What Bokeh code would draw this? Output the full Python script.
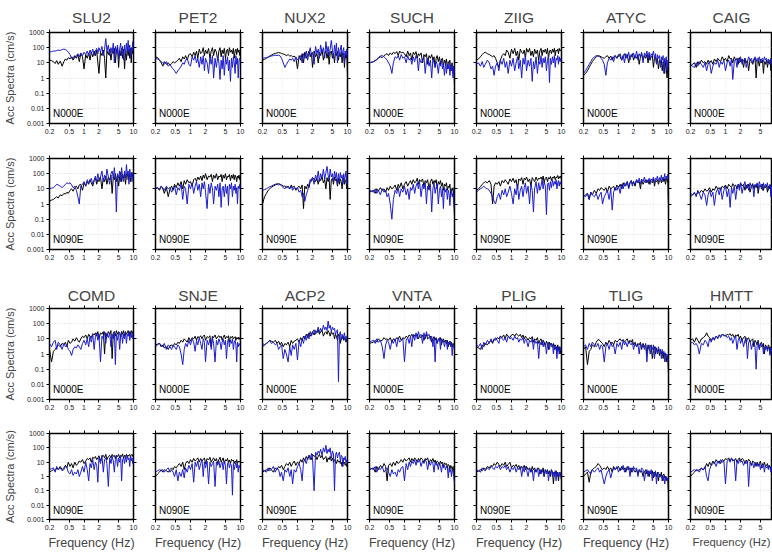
from bokeh.plotting import figure
from bokeh.layouts import gridplot
from bokeh.models import LogAxis, FixedTicker, Label, Range1d
from bokeh.embed import file_html
from bokeh.resources import INLINE

# ---------------- data ----------------
FREQ = [0.2, 0.22, 0.24, 0.26, 0.28, 0.3, 0.33, 0.36, 0.39, 0.42, 0.45,
        0.48, 0.52, 0.56, 0.6, 0.65, 0.7, 0.75, 0.8, 0.86, 0.93, 1.0,
        1.08, 1.16, 1.24, 1.32, 1.4, 1.5, 1.6, 1.7, 1.8, 1.9, 2.0,
        2.15, 2.3, 2.45, 2.6, 2.75, 2.9, 3.1, 3.3, 3.5, 3.7, 3.9,
        4.1, 4.3, 4.5, 4.75, 5.0, 5.25, 5.5, 5.75, 6.0, 6.3, 6.6,
        6.9, 7.2, 7.5, 7.8, 8.1, 8.4, 8.7, 9.0, 9.35, 9.7, 10.0]

STATIONS_TOP = ["SLU2", "PET2", "NUX2", "SUCH", "ZIIG", "ATYC", "CAIG"]
STATIONS_BOTTOM = ["COMD", "SNJE", "ACP2", "VNTA", "PLIG", "TLIG", "HMTT"]

X_TICKS = [0.2, 0.5, 1, 2, 5, 10]
X_TICK_LABELS = ["0.2", "0.5", "1", "2", "5", "10"]
Y_TICKS = [0.001, 0.01, 0.1, 1, 10, 100, 1000]
Y_TICK_LABELS = ["0.001", "0.01", "0.1", "1", "10", "100", "1000"]

# _K = black record, _B = blue record (cm/s), one value per FREQ entry
SLU2_N000E_K = [15, 14, 12, 9, 14, 8, 13, 6, 12, 18, 15,
                22, 18, 25, 15, 30, 20, 35, 12, 40, 25, 4,
                35, 20, 45, 15, 50, 25, 60, 30, 70, 10, 2,
                50, 30, 70, 20, 1, 60, 35, 80, 15, 60, 40,
                90, 10, 60, 100, 5, 70, 30, 90, 20, 80, 4,
                60, 15, 100, 30, 80, 20, 90, 10, 100, 40, 80]
SLU2_N000E_B = [50, 55, 60, 60, 65, 70, 65, 75, 80, 75, 65,
                50, 35, 20, 25, 20, 30, 40, 25, 45, 30, 50,
                35, 60, 30, 70, 40, 80, 30, 60, 90, 40, 100,
                50, 120, 30, 80, 400, 60, 150, 30, 100, 50, 200,
                10, 120, 40, 150, 20, 80, 200, 30, 120, 15, 150,
                40, 200, 60, 300, 50, 150, 20, 100, 60, 250, 60]
PET2_N000E_K = [25, 22, 15, 10, 6, 12, 8, 10, 7, 9, 12,
                10, 12, 15, 20, 12, 25, 18, 30, 15, 35, 40,
                25, 50, 30, 60, 20, 80, 40, 50, 100, 30, 70,
                40, 90, 20, 60, 100, 30, 80, 50, 15, 60, 100,
                25, 70, 40, 90, 20, 60, 80, 30, 100, 50, 70,
                40, 90, 20, 60, 80, 35, 90, 50, 70, 30, 50]
PET2_N000E_B = [20, 18, 15, 12, 10, 8, 12, 6, 8, 5, 4,
                3, 2, 3, 4, 6, 10, 8, 15, 20, 8, 6,
                25, 15, 30, 10, 20, 5, 25, 8, 30, 3, 20,
                10, 2, 25, 8, 30, 1, 20, 5, 25, 10, 0.8,
                15, 4, 30, 1.5, 20, 8, 25, 3, 15, 0.6, 20,
                5, 25, 10, 2, 30, 8, 20, 1, 15, 20, 10]
NUX2_N000E_K = [15, 17, 20, 24, 28, 32, 38, 42, 45, 48, 45,
                42, 38, 35, 30, 35, 28, 30, 25, 28, 20, 4,
                30, 15, 40, 10, 50, 20, 35, 60, 25, 45, 5,
                60, 25, 40, 10, 50, 30, 70, 15, 40, 60, 20,
                50, 8, 40, 60, 20, 45, 10, 50, 30, 60, 15,
                40, 25, 50, 10, 45, 30, 5, 40, 20, 35, 1.5]
NUX2_N000E_B = [20, 21, 22, 24, 26, 28, 30, 32, 30, 33, 28,
                20, 10, 5, 8, 12, 18, 15, 20, 12, 25, 15,
                20, 30, 10, 40, 20, 60, 15, 50, 100, 30, 50,
                8, 120, 40, 80, 20, 150, 50, 100, 20, 250, 50,
                120, 30, 80, 300, 60, 20, 150, 40, 200, 10, 100,
                30, 80, 150, 20, 60, 100, 10, 60, 30, 80, 20]
SUCH_N000E_K = [10, 11, 12, 14, 16, 20, 25, 22, 30, 35, 40,
                30, 45, 35, 50, 40, 55, 30, 60, 45, 50, 40,
                25, 60, 30, 45, 15, 50, 35, 55, 20, 40, 30,
                45, 10, 35, 25, 40, 8, 30, 20, 35, 15, 25,
                5, 20, 30, 12, 25, 8, 18, 20, 6, 15, 10,
                18, 4, 12, 10, 15, 3, 8, 10, 2, 6, 0.3]
SUCH_N000E_B = [10, 11, 12, 14, 18, 22, 28, 30, 25, 20, 15,
                10, 6, 2, 10, 25, 20, 30, 15, 35, 20, 25,
                10, 30, 15, 20, 8, 25, 12, 30, 18, 3, 20,
                10, 15, 25, 2, 12, 20, 6, 15, 1, 18, 10,
                5, 12, 8, 2, 10, 6, 15, 4, 8, 1.5, 10,
                2, 8, 4, 10, 1.5, 6, 3, 8, 1, 5, 2]
ZIIG_N000E_K = [15, 18, 25, 35, 45, 50, 40, 35, 30, 25, 30,
                20, 10, 5, 15, 30, 40, 30, 70, 50, 20, 80,
                40, 90, 30, 60, 15, 80, 50, 40, 70, 20, 90,
                50, 90, 30, 60, 25, 80, 40, 70, 15, 60, 90,
                30, 70, 50, 80, 40, 90, 20, 60, 70, 40, 80,
                50, 90, 30, 70, 60, 80, 40, 90, 60, 70, 80]
ZIIG_N000E_B = [8, 10, 6, 12, 5, 8, 15, 10, 4, 6, 1.5,
                6, 10, 3, 15, 8, 20, 5, 12, 2, 15, 6,
                20, 3, 10, 25, 4, 15, 1, 20, 8, 30, 3,
                15, 6, 20, 0.6, 12, 4, 25, 2, 15, 8, 30,
                5, 20, 10, 25, 3, 15, 30, 0.5, 20, 8, 25,
                10, 30, 5, 20, 15, 30, 8, 25, 12, 20, 15]
ATYC_N000E_K = [1.5, 2, 3, 5, 8, 12, 18, 25, 30, 28, 25,
                22, 20, 25, 30, 20, 28, 15, 25, 30, 20, 35,
                25, 15, 30, 40, 20, 35, 10, 30, 25, 40, 15,
                30, 20, 35, 8, 25, 40, 15, 30, 20, 35, 10,
                30, 15, 25, 30, 5, 20, 25, 10, 20, 4, 15,
                10, 15, 3, 12, 8, 2, 10, 5, 1, 6, 2]
ATYC_N000E_B = [2, 3, 5, 8, 12, 18, 25, 30, 28, 25, 20,
                15, 8, 1.5, 10, 20, 15, 25, 12, 30, 20, 25,
                40, 15, 30, 10, 40, 20, 50, 15, 35, 25, 45,
                20, 60, 15, 40, 25, 50, 10, 45, 30, 60, 20,
                50, 15, 40, 30, 60, 20, 40, 8, 35, 20, 30,
                5, 25, 15, 30, 2, 20, 10, 25, 3, 15, 5]
CAIG_N000E_K = [6, 8, 10, 5, 12, 8, 15, 10, 12, 8, 15,
                10, 14, 8, 18, 12, 20, 15, 12, 25, 15, 20,
                12, 30, 18, 20, 10, 25, 15, 20, 8, 22, 12,
                18, 5, 20, 10, 15, 3, 18, 12, 8, 15, 20,
                1, 12, 15, 6, 18, 10, 15, 2, 12, 8, 15,
                5, 12, 10, 15, 3, 12, 8, 15, 6, 10, 12]
CAIG_N000E_B = [8, 6, 5, 10, 6, 12, 8, 5, 10, 3, 8,
                12, 2, 6, 10, 8, 15, 5, 12, 8, 15, 3,
                10, 15, 6, 20, 0.8, 12, 18, 5, 20, 10, 25,
                8, 15, 20, 5, 12, 25, 15, 20, 10, 18, 25,
                12, 20, 15, 25, 10, 18, 20, 12, 25, 15, 20,
                10, 18, 8, 15, 20, 12, 5, 15, 12, 8, 10]

SLU2_N090E_K = [1.5, 1.8, 2, 2.5, 3, 2.5, 4, 3.5, 5, 4.5, 6,
                5, 8, 10, 7, 12, 15, 10, 18, 20, 8, 25,
                15, 30, 20, 40, 25, 15, 35, 50, 20, 40, 30,
                60, 10, 50, 30, 70, 20, 60, 40, 80, 5, 60,
                40, 100, 30, 80, 15, 60, 120, 30, 90, 50, 100,
                20, 80, 120, 40, 100, 60, 30, 90, 120, 50, 100]
SLU2_N090E_B = [10, 11, 12, 15, 20, 18, 15, 12, 15, 20, 25,
                22, 25, 18, 12, 15, 8, 3, 1, 15, 20, 30,
                15, 40, 25, 30, 50, 20, 40, 70, 30, 100, 40,
                60, 150, 30, 80, 40, 200, 60, 20, 100, 150, 50,
                250, 40, 0.3, 100, 50, 150, 30, 250, 60, 30, 150,
                50, 400, 80, 150, 20, 200, 60, 120, 30, 100, 60]
PET2_N090E_K = [10, 12, 8, 15, 10, 5, 12, 3, 10, 15, 8,
                20, 12, 25, 15, 30, 10, 35, 20, 40, 25, 30,
                15, 40, 50, 30, 60, 40, 70, 35, 80, 50, 100,
                40, 70, 60, 90, 30, 80, 50, 100, 40, 70, 60,
                90, 30, 80, 50, 100, 40, 70, 60, 90, 35, 80,
                50, 90, 40, 80, 60, 30, 70, 50, 80, 40, 60]
PET2_N090E_B = [12, 11, 10, 15, 12, 8, 15, 10, 12, 6, 10,
                15, 4, 12, 8, 20, 2, 15, 10, 1, 20, 10,
                25, 5, 15, 30, 8, 20, 3, 25, 10, 30, 6,
                0.5, 20, 5, 25, 10, 1, 15, 8, 20, 3, 25,
                0.6, 10, 15, 3, 20, 5, 15, 0.8, 20, 10, 25,
                3, 15, 8, 20, 5, 12, 1, 15, 10, 20, 10]
NUX2_N090E_K = [1, 3, 5, 8, 10, 13, 15, 18, 20, 22, 20,
                18, 15, 15, 12, 15, 10, 18, 12, 15, 8, 12,
                15, 10, 18, 0.5, 15, 10, 20, 12, 30, 45, 40,
                50, 30, 45, 20, 50, 35, 60, 25, 40, 10, 55,
                30, 50, 2, 40, 50, 20, 60, 35, 45, 15, 50,
                20, 45, 30, 10, 40, 50, 20, 40, 30, 10, 20]
NUX2_N090E_B = [8, 9, 10, 12, 14, 15, 18, 20, 22, 18, 20,
                15, 12, 10, 15, 12, 10, 15, 8, 12, 10, 12,
                6, 8, 3, 5, 1.5, 4, 8, 20, 40, 30, 60,
                20, 80, 40, 150, 30, 100, 50, 200, 40, 120, 300,
                80, 40, 200, 60, 100, 30, 150, 50, 120, 20, 100,
                30, 120, 50, 80, 20, 100, 40, 60, 150, 20, 40]
SUCH_N090E_K = [6, 7, 8, 5, 10, 7, 12, 8, 10, 6, 12,
                8, 15, 10, 12, 18, 8, 20, 12, 25, 10, 20,
                30, 15, 25, 35, 20, 40, 25, 30, 50, 20, 40,
                30, 45, 15, 35, 25, 40, 10, 30, 45, 20, 35,
                25, 40, 10, 30, 20, 35, 15, 25, 8, 20, 15,
                25, 8, 15, 12, 20, 4, 10, 8, 12, 2, 0.15]
SUCH_N090E_B = [8, 7, 6, 10, 5, 8, 4, 10, 6, 8, 3,
                5, 1, 0.1, 2, 8, 5, 12, 3, 10, 6, 15,
                4, 10, 2, 12, 8, 20, 5, 15, 25, 10, 30,
                3, 20, 10, 25, 1, 15, 8, 20, 0.3, 10, 25,
                5, 12, 20, 1, 8, 15, 3, 10, 0.5, 12, 6,
                10, 2, 8, 5, 0.8, 6, 10, 3, 5, 1, 0.5]
ZIIG_N090E_K = [8, 10, 14, 20, 25, 30, 25, 35, 20, 1, 15,
                25, 20, 30, 15, 35, 25, 40, 30, 20, 45, 30,
                50, 25, 40, 10, 45, 35, 55, 20, 50, 40, 60,
                30, 45, 15, 55, 40, 30, 60, 35, 50, 45, 60,
                40, 70, 25, 50, 60, 30, 55, 45, 65, 35, 60,
                50, 70, 40, 60, 55, 75, 45, 65, 50, 70, 55]
ZIIG_N090E_B = [6, 8, 10, 12, 15, 12, 10, 8, 5, 3, 1.5,
                1, 3, 5, 2, 8, 4, 10, 3, 6, 15, 5,
                1, 10, 4, 20, 2, 8, 15, 3, 12, 25, 5,
                15, 1, 20, 8, 0.3, 10, 30, 5, 25, 8, 15,
                40, 10, 30, 15, 0.2, 20, 25, 8, 30, 12, 40,
                15, 30, 20, 40, 10, 25, 35, 15, 30, 20, 25]
ATYC_N090E_K = [3, 4, 5, 2, 6, 4, 8, 5, 10, 8, 12,
                10, 8, 12, 6, 15, 10, 12, 15, 8, 18, 12,
                20, 10, 25, 15, 20, 30, 12, 25, 35, 20, 30,
                15, 40, 25, 30, 10, 35, 20, 30, 40, 25, 35,
                20, 40, 30, 25, 45, 15, 35, 30, 40, 20, 35,
                45, 25, 40, 50, 30, 45, 20, 35, 50, 25, 0.5]
ATYC_N090E_B = [4, 3, 5, 2, 6, 4, 3, 5, 2, 4, 6,
                1, 3, 5, 8, 2, 10, 0.4, 6, 12, 8, 15,
                5, 20, 10, 25, 15, 30, 10, 25, 35, 15, 30,
                20, 40, 25, 50, 20, 45, 30, 60, 25, 40, 30,
                50, 20, 45, 35, 60, 25, 50, 40, 70, 30, 55,
                40, 80, 30, 60, 45, 100, 35, 70, 50, 90, 40]
CAIG_N090E_K = [3, 4, 5, 4, 6, 5, 8, 6, 10, 7, 8,
                12, 6, 10, 8, 15, 10, 12, 8, 15, 12, 18,
                10, 20, 15, 12, 22, 15, 18, 10, 20, 12, 25,
                15, 20, 8, 18, 12, 20, 6, 15, 22, 10, 18,
                12, 20, 5, 15, 18, 10, 20, 8, 15, 12, 18,
                6, 15, 10, 18, 5, 12, 15, 8, 12, 10, 10]
CAIG_N090E_B = [5, 4, 6, 3, 8, 5, 2, 6, 4, 0.8, 4,
                8, 3, 6, 0.8, 6, 10, 4, 12, 2, 8, 15,
                3, 10, 0.6, 12, 5, 15, 2, 10, 20, 8, 25,
                5, 15, 30, 10, 20, 8, 25, 12, 18, 3, 20,
                15, 25, 10, 30, 15, 20, 8, 25, 12, 20, 15,
                25, 8, 15, 20, 3, 15, 10, 12, 2, 10, 6]

COMD_N000E_K = [2, 0.3, 1.5, 2, 3, 4, 3, 5, 4, 6, 3,
                8, 5, 6, 10, 7, 12, 8, 6, 10, 15, 12,
                18, 10, 20, 15, 12, 22, 18, 25, 15, 30, 10,
                25, 20, 30, 1, 25, 15, 30, 20, 35, 0.5, 25,
                30, 15, 35, 20, 30, 25, 12, 30, 20, 35, 15,
                30, 20, 25, 35, 15, 30, 20, 35, 25, 30, 12]
COMD_N000E_B = [5, 3, 6, 8, 2, 6, 4, 2, 5, 3, 4,
                2, 1.5, 0.8, 2, 3, 2.5, 4, 3, 2, 5, 8,
                4, 10, 3, 15, 6, 20, 2, 15, 25, 8, 20,
                0.3, 15, 10, 30, 5, 20, 12, 25, 3, 20, 10,
                30, 0.2, 20, 8, 25, 2, 15, 30, 5, 20, 10,
                25, 5, 20, 15, 30, 8, 20, 12, 25, 10, 15]
SNJE_N000E_K = [4, 4.5, 5, 3, 4, 2.5, 3, 2, 3.5, 4, 3,
                5, 4, 6, 5, 8, 6, 10, 8, 6, 12, 7,
                12, 10, 15, 8, 14, 12, 16, 10, 15, 18, 8,
                14, 12, 16, 3, 15, 12, 18, 10, 14, 16, 12,
                15, 8, 12, 18, 10, 14, 12, 16, 6, 14, 12,
                15, 10, 12, 14, 8, 12, 10, 13, 9, 12, 10]
SNJE_N000E_B = [3, 4, 5, 4, 3, 5, 2, 4, 3, 2, 4,
                3, 2, 4, 3, 1, 0.2, 2, 5, 3, 8, 4,
                10, 6, 1.5, 8, 4, 12, 5, 2, 10, 6, 0.3,
                8, 4, 10, 2, 12, 5, 0.3, 8, 4, 10, 6,
                2, 6, 10, 4, 8, 0.5, 6, 10, 3, 8, 5,
                10, 2, 6, 8, 4, 0.3, 6, 3, 5, 4, 3]
ACP2_N000E_K = [3, 4, 5, 6, 8, 7, 6, 8, 5, 7, 4,
                6, 3, 5, 4, 6, 3, 8, 5, 7, 8, 10,
                6, 12, 8, 15, 10, 20, 12, 25, 15, 20, 30,
                18, 35, 25, 40, 20, 30, 35, 15, 25, 30, 20,
                35, 25, 15, 30, 20, 25, 10, 20, 15, 8, 20,
                15, 5, 12, 10, 15, 8, 12, 10, 6, 10, 6]
ACP2_N000E_B = [5, 4, 5, 6, 8, 5, 6, 4, 5, 2, 3,
                4, 0.5, 2, 1, 0.3, 3, 0.8, 4, 2, 5, 0.4,
                8, 3, 10, 5, 15, 8, 20, 10, 30, 15, 25,
                40, 20, 30, 60, 25, 50, 30, 80, 40, 60, 35,
                150, 50, 80, 30, 60, 40, 50, 20, 30, 40, 0.015,
                20, 30, 8, 20, 10, 15, 25, 8, 15, 10, 5]
VNTA_N000E_K = [5, 5.5, 6, 8, 6, 10, 7, 8, 12, 9, 10,
                8, 12, 6, 10, 8, 12, 10, 15, 8, 12, 10,
                15, 12, 18, 14, 20, 12, 18, 15, 20, 10, 15,
                12, 18, 8, 14, 20, 10, 12, 15, 6, 10, 14,
                8, 12, 5, 10, 8, 12, 4, 8, 10, 6, 8,
                5, 8, 3, 6, 7, 4, 6, 3, 5, 4, 2]
VNTA_N000E_B = [6, 7, 8, 5, 10, 6, 8, 3, 0.5, 4, 8,
                6, 2, 8, 5, 10, 3, 12, 6, 8, 10, 0.3,
                8, 12, 5, 15, 3, 20, 8, 25, 10, 30, 15,
                20, 5, 25, 10, 30, 15, 20, 8, 15, 3, 12,
                0.3, 10, 5, 8, 12, 2, 10, 6, 8, 3, 6,
                8, 2, 6, 4, 7, 3, 5, 0.8, 4, 3, 2]
PLIG_N000E_K = [3, 2.5, 2, 4, 3, 5, 4, 6, 8, 5, 10,
                8, 12, 10, 15, 12, 18, 10, 20, 15, 12, 18,
                20, 15, 22, 18, 15, 20, 12, 18, 10, 15, 12,
                8, 12, 10, 14, 6, 10, 8, 12, 5, 8, 10,
                4, 8, 6, 3, 7, 5, 2, 6, 4, 5, 3,
                5, 2, 4, 3, 1.5, 4, 2, 3, 1, 2, 1.5]
PLIG_N000E_B = [4, 3, 5, 2, 6, 4, 8, 5, 10, 6, 8,
                12, 8, 5, 15, 10, 8, 12, 6, 15, 10, 12,
                8, 15, 10, 12, 6, 10, 8, 12, 5, 10, 8,
                3, 8, 6, 10, 2, 8, 5, 7, 0.5, 6, 4,
                8, 3, 6, 5, 1, 4, 6, 2, 5, 3, 4,
                1, 4, 2, 3, 0.5, 3, 2, 1, 3, 2, 1.5]
TLIG_N000E_K = [2, 3, 0.2, 1.5, 2, 4, 3, 6, 9, 8, 6,
                5, 3, 6, 4, 8, 5, 6, 4, 8, 6, 8,
                10, 7, 9, 6, 8, 10, 5, 8, 6, 9, 4,
                6, 3, 5, 4, 6, 2, 5, 3, 4, 1, 4,
                2, 3, 4, 0.5, 2, 3, 1, 2.5, 1.5, 2, 0.8,
                2, 1, 1.5, 0.5, 1.2, 0.8, 1, 0.3, 0.8, 0.5, 0.05]
TLIG_N000E_B = [3, 4, 2, 5, 3, 6, 4, 3, 5, 2, 4,
                3, 0.3, 3, 5, 2, 6, 3, 4, 1, 5, 3,
                6, 2, 8, 4, 6, 3, 7, 5, 4, 6, 2,
                5, 3, 4, 1, 5, 3, 4, 2, 5, 0.3, 3,
                4, 1, 3, 2, 4, 0.5, 3, 2, 1, 3, 1.5,
                2, 0.5, 2, 1, 1.5, 0.3, 1.2, 0.8, 1, 0.3, 0.5]
HMTT_N000E_K = [8, 10, 6, 12, 8, 5, 10, 12, 15, 25, 15,
                12, 8, 12, 10, 15, 12, 18, 15, 20, 18, 15,
                20, 18, 22, 15, 20, 12, 18, 15, 20, 10, 15,
                8, 12, 15, 5, 10, 12, 6, 8, 10, 3, 8,
                6, 4, 8, 2, 5, 6, 3, 5, 1, 4, 3,
                2, 4, 3, 1, 3, 2, 1, 3, 2, 1, 1]
HMTT_N000E_B = [5, 6, 4, 5, 3, 1, 5, 4, 8, 6, 3,
                10, 6, 12, 8, 15, 10, 18, 12, 20, 15, 18,
                12, 15, 8, 12, 5, 10, 15, 2, 8, 12, 5,
                10, 3, 8, 12, 0.5, 6, 8, 2, 5, 7, 3,
                0.1, 4, 6, 2, 5, 3, 4, 1, 3, 2, 3,
                1.5, 3, 2, 0.8, 2.5, 1.5, 2, 1, 1.5, 1, 1]

COMD_N090E_K = [2, 2.5, 3, 2.5, 4, 3, 5, 3, 4, 6, 4,
                10, 5, 8, 4, 10, 6, 8, 12, 10, 15, 8,
                12, 18, 15, 20, 10, 22, 18, 25, 15, 20, 28,
                12, 25, 30, 20, 35, 15, 25, 30, 20, 35, 25,
                30, 18, 30, 25, 35, 20, 30, 25, 38, 18, 30,
                25, 35, 20, 30, 28, 35, 22, 30, 35, 25, 28]
COMD_N090E_B = [3, 3.5, 4, 2, 5, 3, 4, 2.5, 3, 5, 4,
                2, 1.5, 3, 1.2, 2, 1.5, 3, 1, 2, 5, 2,
                10, 3, 0.5, 8, 4, 15, 3, 10, 6, 0.4, 20,
                8, 30, 2, 15, 20, 8, 0.2, 20, 8, 25, 12,
                2, 15, 30, 5, 20, 10, 25, 0.5, 15, 20, 8,
                25, 10, 30, 15, 20, 5, 25, 12, 20, 8, 15]
SNJE_N090E_K = [1, 1.5, 2, 3, 2, 3, 2.5, 2, 3, 4, 3,
                5, 4, 6, 8, 5, 10, 3, 8, 12, 8, 15,
                10, 18, 12, 15, 20, 10, 18, 12, 15, 20, 8,
                18, 14, 22, 10, 15, 20, 12, 18, 8, 15, 22,
                10, 14, 20, 8, 15, 12, 18, 10, 14, 8, 16,
                12, 14, 8, 12, 10, 15, 8, 12, 10, 12, 10]
SNJE_N090E_B = [2, 2.5, 3, 2.5, 3, 2, 3, 4, 2, 3, 2,
                1, 3, 0.5, 2, 1, 3, 0.8, 4, 2, 6, 3,
                8, 0.4, 10, 5, 12, 3, 8, 15, 1, 10, 4,
                12, 0.3, 10, 5, 8, 12, 0.2, 10, 6, 12, 4,
                8, 10, 3, 12, 6, 0.3, 8, 10, 4, 8, 6,
                0.05, 8, 3, 6, 10, 4, 8, 2, 6, 4, 5]
ACP2_N090E_K = [2, 2.5, 3, 2.5, 4, 3, 2, 4, 3, 5, 4,
                6, 3, 5, 8, 6, 10, 5, 8, 12, 6, 10,
                8, 15, 10, 20, 12, 25, 15, 30, 20, 15, 35,
                25, 30, 15, 25, 35, 20, 30, 15, 20, 25, 10,
                20, 15, 25, 12, 20, 10, 15, 12, 8, 15, 10,
                12, 8, 10, 5, 12, 8, 10, 6, 8, 5, 6]
ACP2_N090E_B = [3, 2.5, 2, 4, 2.5, 3, 5, 2, 4, 3, 1,
                2, 0.5, 3, 2, 4, 1, 3, 0.3, 3, 2, 5,
                8, 3, 0.5, 10, 15, 8, 20, 30, 15, 40, 20,
                0.1, 50, 30, 60, 40, 80, 30, 100, 50, 150, 40,
                80, 50, 100, 20, 60, 40, 0.1, 30, 50, 20, 40,
                50, 10, 30, 25, 5, 20, 15, 25, 8, 15, 10]
VNTA_N090E_K = [3, 3.5, 4, 2, 5, 3, 6, 4, 8, 5, 0.5,
                6, 8, 5, 10, 6, 12, 8, 10, 15, 10, 18,
                12, 15, 20, 10, 18, 12, 20, 15, 10, 18, 12,
                20, 15, 10, 18, 14, 20, 8, 15, 12, 18, 10,
                14, 8, 12, 10, 6, 12, 8, 10, 5, 9, 7,
                8, 4, 7, 6, 3, 6, 5, 3, 5, 2, 0.5]
VNTA_N090E_B = [4, 3.5, 3, 5, 2, 4, 3, 5, 2, 3, 4,
                2, 1, 3, 1.5, 2, 1, 3, 2, 4, 5, 0.5,
                8, 3, 10, 5, 12, 8, 15, 6, 12, 10, 15,
                5, 12, 8, 15, 10, 3, 10, 6, 12, 8, 2,
                10, 6, 8, 3, 9, 5, 2, 7, 4, 6, 3,
                5, 4, 0.8, 4, 2, 3, 1, 3, 2, 1, 0.3]
PLIG_N090E_K = [2, 2.5, 3, 2.5, 4, 3, 5, 4, 6, 5, 8,
                6, 10, 7, 5, 8, 6, 10, 5, 7, 10, 4,
                6, 5, 7, 4, 6, 3, 5, 4, 6, 3, 5,
                3, 4, 2, 5, 3, 4, 2, 3, 4, 1.5, 3,
                2, 4, 1, 3, 2, 3, 1.5, 2.5, 1, 3, 2,
                0.3, 2, 1.5, 2.5, 1, 2, 0.5, 1.5, 2, 1, 0.5]
PLIG_N090E_B = [3, 2.5, 2, 4, 3, 2.5, 4, 3, 5, 4, 3,
                5, 4, 6, 3, 5, 4, 6, 3, 5, 2, 4,
                3, 5, 2, 4, 3, 5, 1, 4, 2, 5, 3,
                1, 4, 2, 3, 0.5, 3, 2, 4, 1, 3, 1.5,
                3, 2, 1, 3, 1.5, 2.5, 0.5, 2, 1.5, 3, 1,
                2, 1, 2.5, 0.5, 2, 1.5, 1, 2, 1, 1.5, 1.5]
TLIG_N090E_K = [1, 1.5, 2, 0.4, 2, 3, 4, 5, 8, 6, 4,
                3, 4, 3, 5, 3, 4, 2, 5, 3, 4, 5,
                2.5, 5, 3, 4, 2, 5, 3, 4, 2, 4, 3,
                2, 3, 1.5, 3, 2, 2.5, 1, 2, 3, 1.5, 2.5,
                1, 2, 1.5, 2.5, 0.8, 2, 1.5, 1, 2, 0.5, 1.5,
                1, 2, 0.5, 1.2, 1.5, 0.8, 1, 0.5, 0.8, 0.6, 0.05]
TLIG_N090E_B = [2, 2.5, 3, 2, 1.5, 3, 2, 3, 4, 2, 3,
                1, 0.3, 1, 2, 3, 0.8, 2, 4, 3, 5, 2,
                4, 3, 6, 2, 4, 3, 5, 1, 4, 2, 5,
                3, 4, 1, 3, 2, 4, 3, 0.5, 2, 3, 1,
                2.5, 1.5, 3, 0.5, 2, 1, 2.5, 0.3, 1.5, 2, 1,
                1.5, 0.8, 1.2, 0.5, 1, 0.3, 0.8, 1, 0.6, 0.8, 0.5]
HMTT_N090E_K = [1, 1.5, 2, 3, 2.5, 3, 3.5, 3, 4, 8, 5,
                10, 6, 12, 8, 15, 10, 12, 8, 15, 12, 18,
                15, 20, 12, 18, 15, 12, 18, 10, 15, 20, 12,
                18, 15, 8, 14, 10, 16, 12, 6, 12, 10, 8,
                5, 10, 6, 8, 12, 4, 8, 6, 10, 5, 6,
                8, 4, 6, 5, 3, 6, 4, 5, 3, 4, 3]
HMTT_N090E_B = [2, 2.5, 3, 2.5, 3, 2, 4, 3, 5, 1, 0.5,
                3, 6, 8, 10, 5, 12, 8, 15, 10, 12, 0.3,
                12, 15, 10, 20, 12, 15, 0.5, 12, 8, 15, 10,
                12, 6, 10, 8, 12, 0.2, 10, 6, 8, 4, 10,
                6, 8, 5, 8, 3, 6, 4, 7, 2, 6, 4,
                5, 3, 6, 4, 2, 5, 3, 4, 0.8, 3, 2]

# ---------------- layout ----------------
FONT = "Liberation Sans"
BLACK = "#000000"
BLUE = "#1c1cc8"
FRAME_W = 85
FRAME_H = 91
ROW_BORDERS = [(32, 17), (18, 20), (39, 16), (18, 28)]
TITLE_STANDOFF = [7, 0, 4, 0]
ROWS = [(STATIONS_TOP, "N000E"), (STATIONS_TOP, "N090E"),
        (STATIONS_BOTTOM, "N000E"), (STATIONS_BOTTOM, "N090E")]
X_OVR = {t: s for t, s in zip(X_TICKS, X_TICK_LABELS)}
Y_OVR = {t: s for t, s in zip(Y_TICKS, Y_TICK_LABELS)}


def style_axis(ax, ticks, ovr, show_labels):
    ax.ticker = FixedTicker(ticks=ticks)
    ax.axis_line_color = None
    ax.minor_tick_line_color = None
    ax.major_tick_line_color = "black"
    ax.major_tick_out = 3
    ax.major_tick_in = 0
    ax.major_label_text_font_size = "7px"
    ax.major_label_text_font = FONT
    ax.major_label_text_color = "#222222"
    if show_labels:
        ax.major_label_overrides = ovr
        ax.major_label_standoff = 2
    else:
        ax.major_label_overrides = {t: "" for t in ticks}
        ax.major_label_standoff = 0


grid = []
for r, (stations, comp) in enumerate(ROWS):
    btop, bbot = ROW_BORDERS[r]
    row_figs = []
    for c, st in enumerate(stations):
        last = c == len(stations) - 1
        bl = 48 if c == 0 else 8
        br = 0 if last else 14
        fw = 82 if last else FRAME_W
        xend = 0.2 * 10 ** (1.69897 * fw / FRAME_W) if last else 10.0
        p = figure(width=bl + fw + br, height=btop + FRAME_H + bbot,
                   x_axis_type="log", y_axis_type="log",
                   x_range=Range1d(0.2, xend), y_range=Range1d(0.001, 1000),
                   output_backend="svg", toolbar_location=None,
                   min_border_left=bl, min_border_right=br,
                   min_border_top=btop, min_border_bottom=bbot,
                   title=st if r in (0, 2) else None)
        if r in (0, 2):
            p.title.text_font = FONT
            p.title.text_font_size = "15.5px"
            p.title.text_font_style = "normal"
            p.title.align = "center"
            p.title.standoff = TITLE_STANDOFF[r]
        p.outline_line_color = "black"
        p.outline_line_width = 1.5
        p.background_fill_color = "white"
        p.border_fill_color = "white"

        xa = p.xaxis[0]
        style_axis(xa, X_TICKS, X_OVR, True)
        if r == 3:
            xa.axis_label = "Frequency (Hz)"
            xa.axis_label_text_font = FONT
            xa.axis_label_text_font_size = "11.3px" if last else "12.5px"
            xa.axis_label_text_font_style = "normal"
            xa.axis_label_standoff = 3
        ya = p.yaxis[0]
        style_axis(ya, Y_TICKS, Y_OVR, c == 0)
        if c == 0:
            ya.axis_label = "Acc Spectra (cm/s)"
            ya.axis_label_text_font = FONT
            ya.axis_label_text_font_size = "11px"
            ya.axis_label_text_font_style = "normal"
            ya.axis_label_standoff = 8

        top_ax = LogAxis()
        style_axis(top_ax, X_TICKS, X_OVR, False)
        p.add_layout(top_ax, "above")
        if not last:
            right_ax = LogAxis()
            style_axis(right_ax, Y_TICKS, Y_OVR, False)
            p.add_layout(right_ax, "right")

        p.xgrid.grid_line_color = "#b8b8b8"
        p.xgrid.grid_line_dash = "1 2"
        p.xgrid.grid_line_alpha = 0.35
        p.ygrid.grid_line_color = "#b8b8b8"
        p.ygrid.grid_line_dash = "1 2"
        p.ygrid.grid_line_alpha = 0.55

        k = globals()[f"{st}_{comp}_K"]
        b = globals()[f"{st}_{comp}_B"]
        p.line(FREQ, k, line_color=BLACK, line_width=1)
        p.line(FREQ, b, line_color=BLUE, line_width=1)

        p.add_layout(Label(x=0.235, y=0.0045, text=comp, text_font=FONT,
                           text_font_size="10px", text_color="black",
                           text_baseline="alphabetic"))
        row_figs.append(p)
    grid.append(row_figs)

layout = gridplot(grid, toolbar_location=None)
open("out.html", "w").write(file_html(layout, INLINE))
